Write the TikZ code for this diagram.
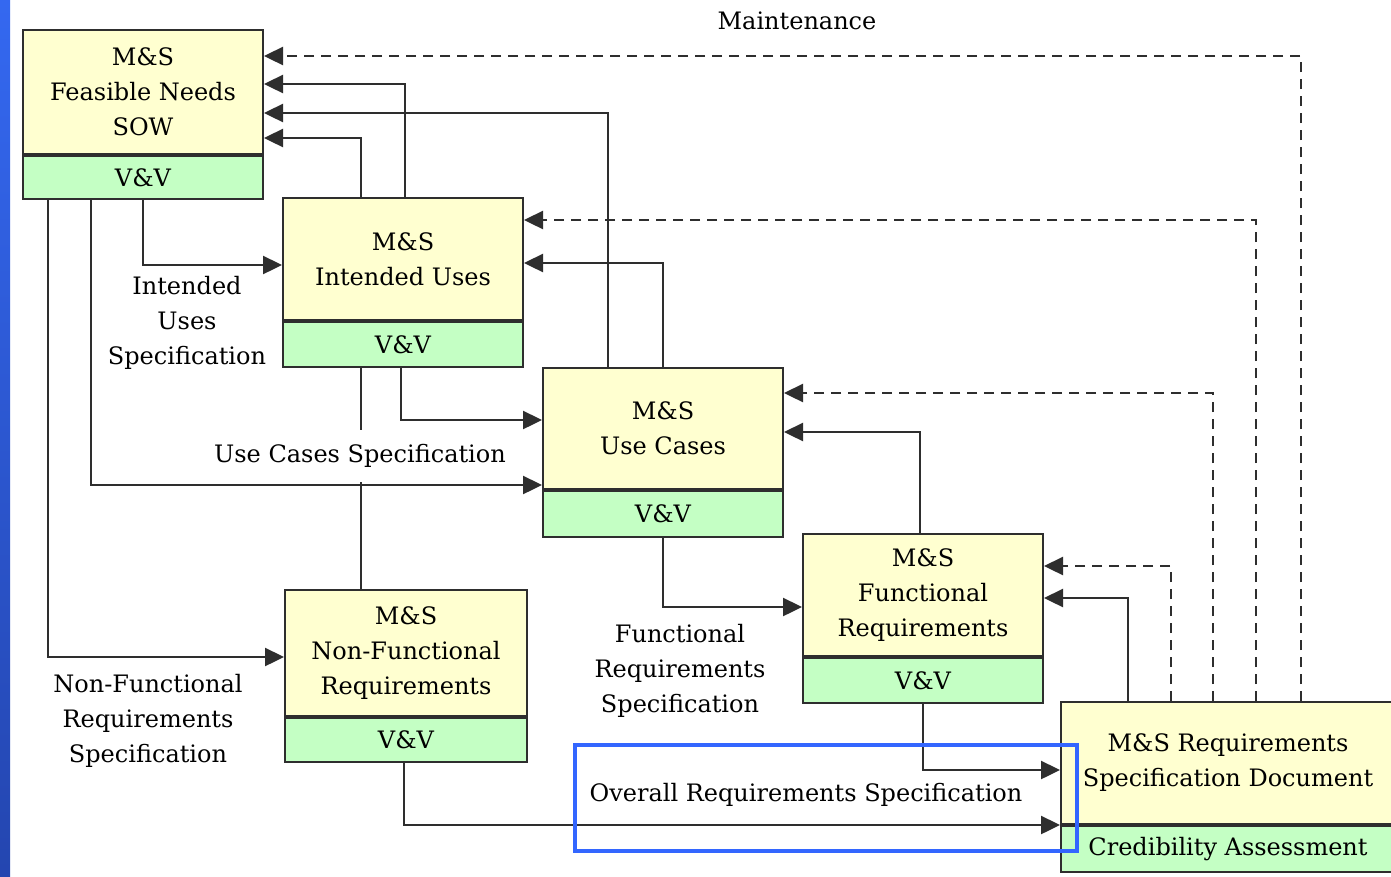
\documentclass[tikz,border=0pt]{standalone}
\usepackage{fontspec}
\setmainfont{DejaVu Serif}
\usetikzlibrary{arrows.meta,backgrounds}
\definecolor{boxY}{HTML}{FFFFD0}
\definecolor{boxG}{HTML}{C4FFC4}
\definecolor{ln}{HTML}{2E2E2E}
\definecolor{hl}{HTML}{3366FF}
\definecolor{barT}{HTML}{3468F0}
\definecolor{barB}{HTML}{2446B0}
\begin{document}
\begin{tikzpicture}[x=1pt,y=-1pt,
  font=\fontsize{24}{35}\selectfont,
  part/.style={draw=ln, line width=2pt, inner sep=0pt, align=center, anchor=north west, text=black},
  ytop/.style={part, fill=boxY},
  gbot/.style={part, fill=boxG},
  conn/.style={draw=ln, line width=2.4pt},
  arr/.style={conn, -{Triangle[length=19pt,width=18pt]}},
  dsh/.style={arr, dash pattern=on 10pt off 7pt},
  lbl/.style={align=center, inner sep=2pt, text=black},
  hlbox/.style={draw=hl, line width=4pt}
]
\useasboundingbox (0,0) rectangle (1391,876);

% boxes
\node[ytop, minimum width=240pt, minimum height=124pt] (b1) at (22,29) {M\&S\\Feasible Needs\\SOW};
\node[gbot, minimum width=240pt, minimum height=43pt] (b1v) at (b1.south west) {V\&V};
\node[ytop, minimum width=240pt, minimum height=122pt] (b2) at (282,197) {M\&S\\Intended Uses};
\node[gbot, minimum width=240pt, minimum height=45pt] (b2v) at (b2.south west) {V\&V};
\node[ytop, minimum width=240pt, minimum height=121pt] (b3) at (542,367) {M\&S\\Use Cases};
\node[gbot, minimum width=240pt, minimum height=46pt] (b3v) at (b3.south west) {V\&V};
\node[ytop, minimum width=240pt, minimum height=122pt] (b4) at (802,533) {M\&S\\Functional\\Requirements};
\node[gbot, minimum width=240pt, minimum height=45pt] (b4v) at (b4.south west) {V\&V};
\node[ytop, minimum width=242pt, minimum height=126pt] (b5) at (284,589) {M\&S\\Non-Functional\\Requirements};
\node[gbot, minimum width=242pt, minimum height=44pt] (b5v) at (b5.south west) {V\&V};
\node[ytop, minimum width=334pt, minimum height=122pt] (b6) at (1060,701) {M\&S Requirements\\Specification Document};
\node[gbot, minimum width=334pt, minimum height=46pt] (b6v) at (b6.south west) {Credibility Assessment};

% page background and connector hidden behind Intended Uses box
\begin{pgfonlayer}{background}
\fill[white] (0,0) rectangle (1391,876);
\shade[top color=barT, bottom color=barB] (0,0) rectangle (10,876);
\draw[arr] (b5.north -| 361,0) |- (b1.east |- 0,138);
\end{pgfonlayer}

% solid connectors
\draw[arr] (b1v.south -| 143,0) |- (b2.west |- 0,265);
\draw[arr] (b1v.south -| 91,0) |- (b3.west |- 0,485);
\draw[arr] (b1v.south -| 48,0) |- (b5.west |- 0,657);
\draw[arr] (b2.north -| 405,0) |- (b1.east |- 0,84);
\draw[arr] (b2v.south -| 401,0) |- (b3.west |- 0,420);
\draw[arr] (b3.north -| 608,0) |- (b1.east |- 0,113);
\draw[arr] (b3.north -| 663,0) |- (b2.east |- 0,263);
\draw[arr] (b3v.south -| 663,0) |- (b4.west |- 0,607);
\draw[arr] (b4.north -| 920,0) |- (b3.east |- 0,432);
\draw[arr] (b4v.south -| 923,0) |- (b6.west |- 0,770);
\draw[arr] (b5v.south -| 404,0) |- (b6.west |- 0,825);
\draw[arr] (b6.north -| 1128,0) |- (b4.east |- 0,598);

% dashed maintenance connectors
\draw[dsh] (b6.north -| 1171,0) |- (b4.east |- 0,566);
\draw[dsh] (b6.north -| 1213,0) |- (b3.east |- 0,393);
\draw[dsh] (b6.north -| 1256,0) |- (b2.east |- 0,220);
\draw[dsh] (b6.north -| 1301,0) |- (b1.east |- 0,56);

% labels
\node[lbl] (lMaint) at (797,21) {Maintenance};
\node[lbl] (lIU) at (187,323) {Intended\\Uses\\Specification};
\node[lbl, fill=white, minimum height=52pt] (lUC) at (360,456) {Use Cases Specification};
\node[lbl] (lNF) at (148,721) {Non-Functional\\Requirements\\Specification};
\node[lbl] (lFR) at (680,671) {Functional\\Requirements\\Specification};
\node[lbl] (lOR) at (806,795) {Overall Requirements Specification};

% highlight
\draw[hlbox] (575,745) rectangle (1077,851);
\end{tikzpicture}
\end{document}
